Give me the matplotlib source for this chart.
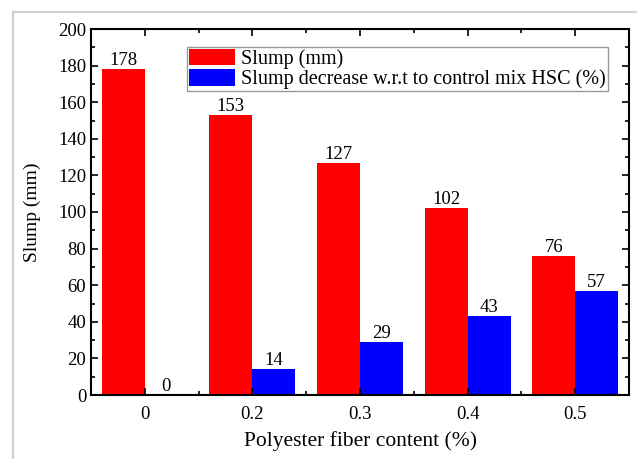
import matplotlib
matplotlib.use('Agg')
import matplotlib.pyplot as plt
from matplotlib.patches import Rectangle
from matplotlib.ticker import MultipleLocator
import numpy as np

categories = ['0', '0.2', '0.3', '0.4', '0.5']
slump = [178, 153, 127, 102, 76]
slump_decrease = [0, 14, 29, 43, 57]

plt.rcParams['font.family'] = ['Liberation Serif', 'DejaVu Serif']

fig = plt.figure(figsize=(6.37, 4.59), dpi=100)
ax = fig.add_axes([91 / 637, 1 - 395 / 459, (629 - 91) / 637, (395 - 29) / 459])

# light grey frame around the figure (cut off at right/bottom)
fig.patches.append(Rectangle((13 / 637, -0.05), 1.1, 1 - 12 / 459 + 0.05,
                             transform=fig.transFigure, fill=False,
                             edgecolor='#d0d0d0', linewidth=1.5))

x = np.arange(len(categories))
w = 0.4
b1 = ax.bar(x - w / 2, slump, w, color='#ff0000', label='Slump (mm)')
b2 = ax.bar(x + w / 2, slump_decrease, w, color='#0000ff',
            label='Slump decrease w.r.t to control mix HSC (%)')
ax.bar_label(b1, fontsize=13.5, padding=0)
ax.bar_label(b2, fontsize=13.5, padding=0)

ax.set_xlim(-0.5, 4.5)
ax.set_ylim(0, 200)
ax.set_xticks(x)
ax.set_xticklabels(categories)
ax.xaxis.set_minor_locator(MultipleLocator(0.5))
ax.yaxis.set_major_locator(MultipleLocator(20))
ax.yaxis.set_minor_locator(MultipleLocator(10))
ax.tick_params(which='both', direction='in', top=True, right=True, labelsize=13.5, width=1.2)
ax.tick_params(which='major', length=5)
ax.tick_params(which='minor', length=3)
ax.tick_params(axis='x', pad=8)
for s in ax.spines.values():
    s.set_linewidth(1.5)

ax.set_xlabel('Polyester fiber content (%)', fontsize=15.5, labelpad=6)
ax.set_ylabel('Slump (mm)', fontsize=14, labelpad=12)

ax.legend(loc='upper left', bbox_to_anchor=(0.178, 0.952), fontsize=14.5,
          frameon=True, fancybox=False, edgecolor='#808080',
          handlelength=2.3, handleheight=0.9, handletextpad=0.3,
          borderpad=0.1, labelspacing=0.0, borderaxespad=0)

fig.savefig('out.png', dpi=100)
